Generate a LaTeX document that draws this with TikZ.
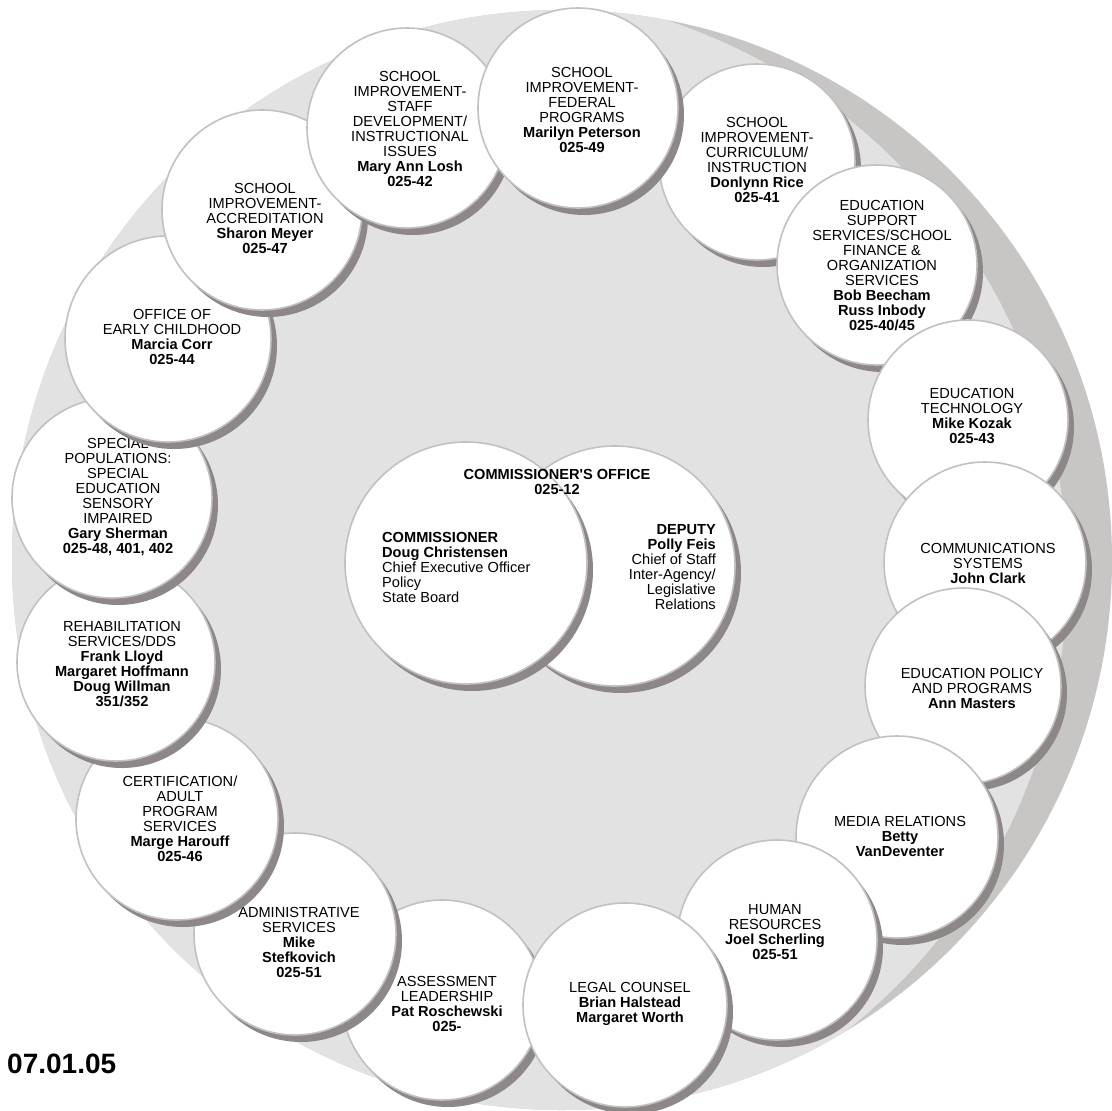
\documentclass[tikz,border=0pt]{standalone}
\usepackage{fontspec}
\setmainfont{Liberation Sans}[Ligatures=TeXOff]
\usetikzlibrary{shadows}
\definecolor{bglight}{HTML}{E3E2E2}
\definecolor{bgdark}{HTML}{C8C5C5}
\definecolor{shd}{HTML}{8E8787}
\definecolor{rim}{HTML}{C2C0C0}
\begin{document}
\begin{tikzpicture}[x=1pt,y=-1pt,
  ring/.style={circle, fill=white, draw=rim, line width=1.6pt, inner sep=0pt,
    drop shadow={shadow xshift=6pt, shadow yshift=-7pt, opacity=1, fill=shd, draw=none}},
  txt/.style={align=center, inner sep=0pt, font=\fontsize{14.6pt}{15pt}\selectfont},
  lefttxt/.style={align=left, inner sep=0pt, font=\fontsize{14.6pt}{15pt}\selectfont},
  righttxt/.style={align=right, inner sep=0pt, font=\fontsize{14.6pt}{15pt}\selectfont}]
\useasboundingbox (0,0) rectangle (1112,1111);
% background
\fill[bgdark] (562,560) circle[radius=550pt];
\begin{scope}
\clip (562,560) circle[radius=550pt];
\fill[bglight] (484,574) circle[radius=583pt];
\end{scope}
% ring
\node[ring, minimum size=196pt] (cur) at (757,162) {};
\node[txt] (curT) at (757,160) {SCHOOL\\IMPROVEMENT-\\CURRICULUM/\\INSTRUCTION\\\textbf{Donlynn Rice}\\\textbf{025-41}};
\node[ring, minimum size=200pt] (sup) at (877,265) {};
\node[txt] (supT) at (882,266) {EDUCATION\\SUPPORT\\SERVICES/SCHOOL\\FINANCE \&\\ORGANIZATION\\SERVICES\\\textbf{Bob Beecham}\\\textbf{Russ Inbody}\\\textbf{025-40/45}};
\node[ring, minimum size=200pt] (tec) at (968,420) {};
\node[txt] (tecT) at (972,416) {EDUCATION\\TECHNOLOGY\\\textbf{Mike Kozak}\\\textbf{025-43}};
\node[ring, minimum size=202pt] (com) at (985,563) {};
\node[txt] (comT) at (988,563) {COMMUNICATIONS\\SYSTEMS\\\textbf{John Clark}};
\node[ring, minimum size=196pt] (pol) at (963,686) {};
\node[txt] (polT) at (972,688) {EDUCATION POLICY\\AND PROGRAMS\\\textbf{Ann Masters}};
\node[ring, minimum size=202pt] (med) at (897,837) {};
\node[txt] (medT) at (900,836) {MEDIA RELATIONS\\\textbf{Betty}\\\textbf{VanDeventer}};
\node[ring, minimum size=200pt] (hum) at (777,940) {};
\node[txt] (humT) at (775,932) {HUMAN\\RESOURCES\\\textbf{Joel Scherling}\\\textbf{025-51}};
\node[ring, minimum size=200pt] (ass) at (442,1000) {};
\node[txt] (assT) at (447,1004) {ASSESSMENT\\LEADERSHIP\\\textbf{Pat Roschewski}\\\textbf{025-}};
\node[ring, minimum size=204pt] (leg) at (625,1005) {};
\node[txt] (legT) at (630,1004) {LEGAL COUNSEL\\\textbf{Brian Halstead}\\\textbf{Margaret Worth}};
\node[ring, minimum size=202pt] (adm) at (295,934) {};
\node[txt] (admT) at (299,942) {ADMINISTRATIVE\\SERVICES\\\textbf{Mike}\\\textbf{Stefkovich}\\\textbf{025-51}};
\node[ring, minimum size=202pt] (cer) at (177,819) {};
\node[txt] (cerT) at (180,819) {CERTIFICATION/\\ADULT\\PROGRAM\\SERVICES\\\textbf{Marge Harouff}\\\textbf{025-46}};
\node[ring, minimum size=198pt] (reh) at (116,662) {};
\node[txt] (rehT) at (122,664) {REHABILITATION\\SERVICES/DDS\\\textbf{Frank Lloyd}\\\textbf{Margaret Hoffmann}\\\textbf{Doug Willman}\\\textbf{351/352}};
\node[ring, minimum size=200pt] (spe) at (112,498) {};
\node[txt] (speT) at (118,497) {SPECIAL\\POPULATIONS:\\SPECIAL\\EDUCATION\\SENSORY\\IMPAIRED\\\textbf{Gary Sherman}\\\textbf{025-48, 401, 402}};
\node[ring, minimum size=206pt] (ear) at (168,339) {};
\node[txt] (earT) at (172,337) {OFFICE OF\\EARLY CHILDHOOD\\\textbf{Marcia Corr}\\\textbf{025-44}};
\node[ring, minimum size=200pt] (acc) at (262,210) {};
\node[txt] (accT) at (265,218) {SCHOOL\\IMPROVEMENT-\\ACCREDITATION\\\textbf{Sharon Meyer}\\\textbf{025-47}};
\node[ring, minimum size=200pt] (stf) at (407,128) {};
\node[txt] (stfT) at (410,129) {SCHOOL\\IMPROVEMENT-\\STAFF\\DEVELOPMENT/\\INSTRUCTIONAL\\ISSUES\\\textbf{Mary Ann Losh}\\\textbf{025-42}};
\node[ring, minimum size=200pt] (fed) at (578,108) {};
\node[txt] (fedT) at (582,110) {SCHOOL\\IMPROVEMENT-\\FEDERAL\\PROGRAMS\\\textbf{Marilyn Peterson}\\\textbf{025-49}};
% centre
\node[ring, minimum size=240pt] (dep) at (615,566) {};
\node[ring, minimum size=242pt] (cmr) at (466,563) {};
\node[txt] (off) at (557,482) {\textbf{COMMISSIONER'S OFFICE}\\\textbf{025-12}};
\node[lefttxt, anchor=west] (cmrT) at (382,567.5) {\textbf{COMMISSIONER}\\\textbf{Doug Christensen}\\Chief Executive Officer\\Policy\\State Board};
\node[righttxt, anchor=east] (depT) at (716,567.5) {\textbf{DEPUTY}\\\textbf{Polly Feis}\\Chief of Staff\\Inter-Agency/\\Legislative\\Relations};
% date
\node[inner sep=0pt, anchor=west, font=\bfseries\fontsize{28pt}{28pt}\selectfont] (date) at (7,1064) {07.01.05};
\end{tikzpicture}
\end{document}
